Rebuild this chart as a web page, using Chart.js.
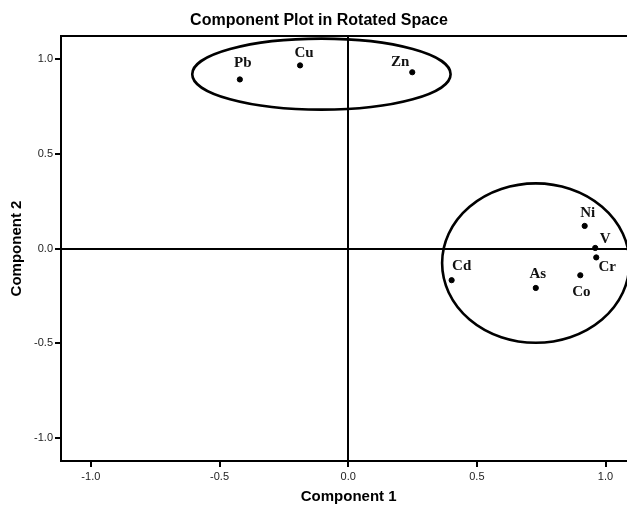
<!DOCTYPE html>
<html>
<head>
<meta charset="utf-8">
<script src="https://cdn.jsdelivr.net/npm/chart.js@4.4.1/dist/chart.umd.min.js"></script>
<style>
  html, body { margin: 0; padding: 0; background: #fff; overflow: hidden; }
  #wrap { width: 640px; height: 506px; }
</style>
</head>
<body>
<div id="wrap"><canvas id="plot"></canvas></div>
<script>
// Datos de cargas (Componente 1, Componente 2)
const elements = ['Pb', 'Cu', 'Zn', 'Ni', 'V', 'Cr', 'Cd', 'As', 'Co'];
const comp1 = [-0.421, -0.187, 0.249, 0.919, 0.960, 0.964, 0.402, 0.729, 0.902];
const comp2 = [0.891, 0.965, 0.929, 0.119, 0.003, -0.047, -0.167, -0.208, -0.141];
const tickValues = [-1.0, -0.5, 0.0, 0.5, 1.0];

// Grupos marcados con elipses (centro y radios en unidades de los ejes)
const groupCx = [-0.104, 0.729];
const groupCy = [0.919, -0.077];
const groupRx = [0.502, 0.364];
const groupRy = [0.187, 0.420];

// desplazamiento de las etiquetas respecto al punto (px)
const labelOffsets = {
  Pb: [3, -16], Cu: [4, -12], Zn: [-12, -10], Ni: [3, -13], V: [10, -9],
  Cr: [11, 10], Cd: [10, -14], As: [2, -14], Co: [1, 17]
};

const points = elements.map((el, i) => ({ x: comp1[i], y: comp2[i] }));

const frameAndEllipses = {
  id: 'frameAndEllipses',
  beforeDatasetsDraw(chart) {
    const { ctx, chartArea: a, scales: { x, y } } = chart;
    ctx.save();
    ctx.strokeStyle = '#000';
    ctx.lineWidth = 2;
    ctx.strokeRect(a.left, a.top, a.right - a.left, a.bottom - a.top);
    ctx.lineWidth = 2.6;
    groupCx.forEach((cx, i) => {
      const px = x.getPixelForValue(cx);
      const py = y.getPixelForValue(groupCy[i]);
      const rx = Math.abs(x.getPixelForValue(cx + groupRx[i]) - px);
      const ry = Math.abs(y.getPixelForValue(groupCy[i] + groupRy[i]) - py);
      ctx.beginPath();
      ctx.ellipse(px, py, rx, ry, 0, 0, Math.PI * 2);
      ctx.stroke();
    });
    ctx.restore();
  },
  afterDatasetsDraw(chart) {
    const { ctx } = chart;
    const meta = chart.getDatasetMeta(0);
    ctx.save();
    ctx.font = 'bold 15px "Liberation Serif", "Times New Roman", serif';
    ctx.fillStyle = '#111';
    ctx.textAlign = 'center';
    ctx.textBaseline = 'middle';
    meta.data.forEach((pt, i) => {
      const off = labelOffsets[elements[i]] || [0, -12];
      ctx.fillText(elements[i], pt.x + off[0], pt.y + off[1]);
    });
    ctx.restore();
  }
};

const axisFont = { family: '"Liberation Sans", Arial, sans-serif', size: 11 };
const titleFont = { family: '"Liberation Sans", Arial, sans-serif', size: 15, weight: 'bold', lineHeight: 1.2 };

function gridFor() {
  return {
    color: c => (c.tick && c.tick.value === 0 ? '#000' : 'rgba(0,0,0,0)'),
    lineWidth: 2,
    tickColor: '#000',
    tickLength: 6,
    tickWidth: 2
  };
}

new Chart(document.getElementById('plot'), {
  type: 'scatter',
  data: {
    datasets: [{
      data: points,
      backgroundColor: '#000',
      borderColor: '#000',
      pointRadius: 2.6,
      pointHoverRadius: 2.6
    }]
  },
  options: {
    responsive: true,
    maintainAspectRatio: false,
    animation: false,
    devicePixelRatio: 1,
    layout: { padding: { left: 0, right: 2, top: 0, bottom: 0 } },
    plugins: {
      legend: { display: false },
      tooltip: { enabled: false },
      title: {
        display: true,
        text: 'Component Plot in Rotated Space',
        color: '#000',
        font: { family: '"Liberation Sans", Arial, sans-serif', size: 16, weight: 'bold', lineHeight: 1.2 },
        padding: { top: 11, bottom: 5.8 }
      }
    },
    scales: {
      x: {
        type: 'linear',
        min: -1.116,
        max: 1.12,
        border: { display: false },
        grid: gridFor(),
        afterBuildTicks: s => { s.ticks = tickValues.map(v => ({ value: v })); },
        afterFit: s => { s.height = 45; },
        ticks: { color: '#222', font: axisFont, padding: 3, callback: v => Number(v).toFixed(1) },
        title: { display: true, text: 'Component 1', color: '#000', font: titleFont, padding: { top: 0, bottom: 0 } }
      },
      y: {
        type: 'linear',
        min: -1.12,
        max: 1.12,
        border: { display: false },
        grid: gridFor(),
        afterBuildTicks: s => { s.ticks = tickValues.map(v => ({ value: v })); },
        afterFit: s => { s.width = 61; },
        ticks: { color: '#222', font: axisFont, padding: 2, callback: v => Number(v).toFixed(1) },
        title: { display: true, text: 'Component 2', color: '#000', font: titleFont, padding: { top: 8, bottom: 8 } }
      }
    }
  },
  plugins: [frameAndEllipses]
});
</script>
</body>
</html>
